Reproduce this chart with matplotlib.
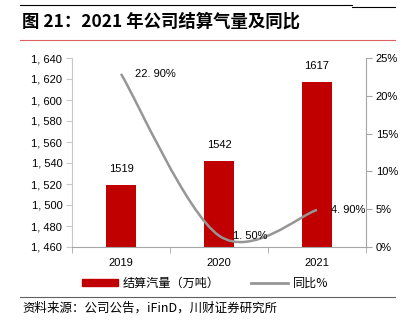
import matplotlib
matplotlib.use("Agg")
import matplotlib.pyplot as plt
from matplotlib.path import Path
from matplotlib.patches import PathPatch, Patch
from matplotlib.lines import Line2D
from matplotlib.ticker import FuncFormatter

plt.rcParams['font.family'] = ['Liberation Sans', 'Noto Sans CJK SC', 'DejaVu Sans']
CJK = ['Noto Sans CJK SC', 'DejaVu Sans']

years = ["2019", "2020", "2021"]
volume = [1519, 1542, 1617]
yoy = [22.90, 1.50, 4.90]

red = "#C00000"
gray = "#969696"

fig = plt.figure(figsize=(4.06, 3.31), dpi=100)
ax = fig.add_axes([72 / 406, 1 - 247 / 331, 294 / 406, 189 / 331])
ax2 = ax.twinx()

x = list(range(len(years)))
ax.bar(x, volume, width=0.31, color=red, zorder=2)
for xi, v in zip(x, volume):
    ax.annotate(str(v), (xi, v), xytext=(0, 8), textcoords="offset points",
                ha="center", va="bottom", fontsize=8)

ax.set_xlim(-0.5, 2.5)
ax.set_ylim(1460, 1640)
ax.set_yticks(range(1460, 1641, 20))
ax.yaxis.set_major_formatter(FuncFormatter(lambda v, p: f"{int(v):,}".replace(",", ", ")))
ax.set_xticks(x)
ax.set_xticklabels(years)
ax.set_xticks([-0.5, 0.5, 1.5, 2.5], minor=True)
ax.tick_params(axis="x", which="major", length=0, pad=8, labelsize=8)
ax.tick_params(axis="x", which="minor", length=4, color="#a6a6a6")
ax.tick_params(axis="y", length=4, color="#c8c8c8", labelsize=8, pad=3)

ax2.set_ylim(0, 25)
ax2.set_yticks(range(0, 26, 5))
ax2.yaxis.set_major_formatter(FuncFormatter(lambda v, p: f"{int(v)}%"))
ax2.tick_params(axis="y", length=4, color="#a6a6a6", labelsize=8, pad=3)

for a in (ax, ax2):
    a.spines["top"].set_visible(False)
ax.spines["left"].set_color("#c8c8c8")
ax.spines["bottom"].set_color("#a6a6a6")
ax.spines["right"].set_visible(False)
ax2.spines["left"].set_visible(False)
ax2.spines["bottom"].set_visible(False)
ax2.spines["right"].set_color("#a6a6a6")

# smoothed line (Catmull-Rom style bezier through the points)
pts = list(zip(x, yoy))
verts = [pts[0]]
codes = [Path.MOVETO]
n = len(pts)
for i in range(n - 1):
    p0 = pts[i - 1] if i > 0 else pts[i]
    p1 = pts[i]
    p2 = pts[i + 1]
    p3 = pts[i + 2] if i + 2 < n else pts[i + 1]
    c1 = (p1[0] + (p2[0] - p0[0]) / 6, p1[1] + (p2[1] - p0[1]) / 6)
    c2 = (p2[0] - (p3[0] - p1[0]) / 6, p2[1] - (p3[1] - p1[1]) / 6)
    verts += [c1, c2, p2]
    codes += [Path.CURVE4] * 3
ax2.add_patch(PathPatch(Path(verts, codes), fill=False, edgecolor=gray, lw=1.8,
                        capstyle="butt", zorder=3))
for xi, v in zip(x, yoy):
    ax2.annotate(f"{v:.2f}%".replace(".", ". "), (xi, v), xytext=(10, 0),
                 textcoords="offset points", ha="left", va="center", fontsize=8)

# header / footer decoration
fig.add_artist(Line2D([20 / 406, 352 / 406], [1 - 5 / 331] * 2, color="black", lw=0.8))
fig.add_artist(Line2D([352 / 406, 395 / 406], [1 - 7 / 331] * 2, color="black", lw=0.8))
fig.text(22 / 406, 1 - 22 / 331, "图 21：2021 年公司结算气量及同比", family=CJK,
         fontsize=12.5, fontweight="bold", va="center", ha="left")
fig.add_artist(Line2D([20 / 406, 395 / 406], [1 - 40 / 331] * 2, color="#e06060", lw=0.8))
fig.add_artist(Line2D([20 / 406, 395 / 406], [1 - 297 / 331] * 2, color="#606060", lw=0.8))
fig.text(22 / 406, 1 - 308 / 331, "资料来源：公司公告，iFinD，川财证券研究所", family=CJK,
         fontsize=9, style="italic", va="center", ha="left")

handles = [Patch(color=red), Line2D([], [], color=gray, lw=2)]
fig.legend(handles, ["结算汽量（万吨）", "同比%"], loc="center", ncol=2,
           bbox_to_anchor=(205 / 406, 1 - 283 / 331), frameon=False,
           prop={"family": CJK, "size": 8.7}, handlelength=3.0, handleheight=0.5,
           columnspacing=2.6, handletextpad=0.4)

fig.savefig("out.png", dpi=100)
